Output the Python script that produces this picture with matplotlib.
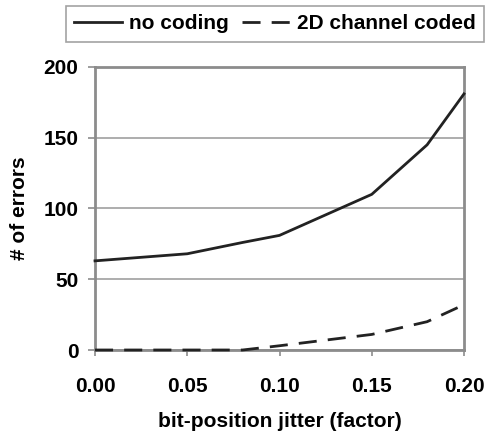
import matplotlib
matplotlib.use("Agg")
import matplotlib.pyplot as plt
from matplotlib.lines import Line2D

plt.rcParams['font.family'] = ['Liberation Sans', 'DejaVu Sans']
plt.rcParams['font.weight'] = 'bold'

jitter = [0.00, 0.05, 0.08, 0.10, 0.15, 0.18, 0.20]
no_coding = [63, 68, 76, 81, 110, 145, 181]
coded_2d = [0, 0, 0, 3, 11, 20, 32]
series_labels = ["no coding", "2D channel coded"]
xticks = [0.00, 0.05, 0.10, 0.15, 0.20]
yticks = [0, 50, 100, 150, 200]

LW = 2.0
DASH = (6.5, 4.0)
INK = '#222222'
FRAME = '#8c8c8c'

fig = plt.figure(figsize=(4.88, 4.36), dpi=100)
ax = fig.add_axes([95/488, 1 - 350/436, (464 - 95)/488, (350 - 67)/436])

ax.plot(jitter, no_coding, color=INK, lw=LW, solid_joinstyle='round',
        clip_on=False, zorder=5)
ax.plot(jitter, coded_2d, color=INK, lw=LW, dashes=DASH,
        clip_on=False, zorder=5)

ax.set_xlim(0, 0.20)
ax.set_ylim(0, 200)
ax.set_xticks(xticks)
ax.set_xticklabels([f"{t:.2f}" for t in xticks], fontsize=15, fontweight='bold')
ax.set_yticks(yticks)
ax.set_yticklabels([str(t) for t in yticks], fontsize=15, fontweight='bold')
ax.yaxis.grid(True, color='#a0a0a0', lw=1.2)
ax.set_axisbelow(True)
for s in ax.spines.values():
    s.set_color(FRAME)
    s.set_linewidth(2.0)
    s.set_zorder(2)
ax.tick_params(axis='x', color=FRAME, width=1.2, length=4.5, pad=15)
ax.tick_params(axis='y', color=FRAME, width=1.2, length=5, pad=7)

ax.set_xlabel("bit-position jitter (factor)", fontsize=15, fontweight='bold')
ax.xaxis.set_label_coords(0.5, (350 - 412) / 283)
ax.set_ylabel("# of errors", fontsize=15, fontweight='bold')
ax.yaxis.set_label_coords((29 - 95) / 369, 0.5)

handles = [Line2D([], [], color=INK, lw=LW),
           Line2D([], [], color=INK, lw=LW, dashes=DASH)]
leg = fig.legend(handles, series_labels, loc='upper left',
                 bbox_to_anchor=(66/488, 1 - 6/436), ncol=2, frameon=True,
                 fancybox=False, prop={'size': 15, 'weight': 'bold'},
                 handlelength=2.3, columnspacing=0.63, handletextpad=0.34,
                 borderpad=0.4, borderaxespad=0)
leg.get_frame().set_edgecolor(FRAME)
leg.get_frame().set_linewidth(1.2)

fig.savefig("out.png", dpi=100)
